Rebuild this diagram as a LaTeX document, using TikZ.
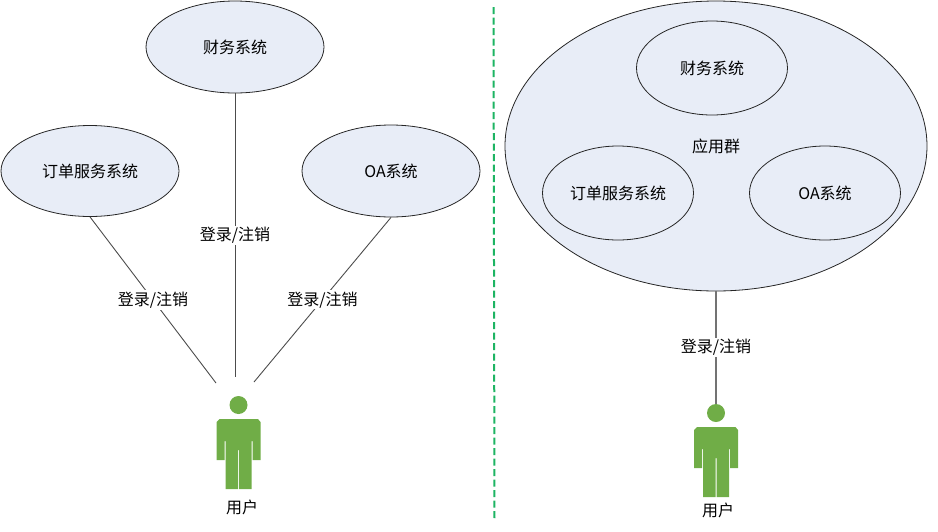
\documentclass[tikz,border=0pt]{standalone}
\usepackage{fontspec}
\setmainfont{Noto Sans CJK SC}
\usetikzlibrary{shapes.geometric}
\definecolor{sysfill}{HTML}{E8EDF7}
\definecolor{usergreen}{HTML}{70AD47}
\definecolor{divgreen}{HTML}{1DB463}
\tikzset{
  x=1pt,y=-1pt,
  sys/.style={ellipse,draw=black!85,line width=0.8pt,fill=sysfill,inner sep=0pt,font=\fontsize{16}{18}\selectfont},
  conn/.style={draw=black!70,line width=0.9pt},
  connb/.style={draw=black!55,line width=1.8pt},
  lbl/.style={fill=white,inner sep=1.5pt,font=\fontsize{16}{18}\selectfont},
  captext/.style={inner sep=0pt,font=\fontsize{16}{18}\selectfont},
  head/.style={circle,fill=usergreen,inner sep=0pt,minimum size=18pt},
  person/.pic={
    \fill[usergreen] (-22,14) -- (-19,11) -- (19.5,11) -- (22,14) -- (22,52)
      -- (14,52) -- (14,33) -- (13,33) -- (13,81) -- (0.5,81) -- (0.5,42) -- (-0.5,42) -- (-0.5,81)
      -- (-13,81) -- (-13,33) -- (-14,33) -- (-14,52) -- (-22,52) -- cycle;
  }
}
\begin{document}
\begin{tikzpicture}
\useasboundingbox (0,0) rectangle (938,531);
\node[sys,minimum width=178pt,minimum height=92pt] (fin) at (235,47) {财务系统};
\node[sys,minimum width=178pt,minimum height=91pt] (ord) at (90,171) {订单服务系统};
\node[sys,minimum width=178pt,minimum height=92pt] (oa) at (391,171) {OA系统};
\coordinate (uA) at (216,383);
\coordinate (uB) at (235,377);
\coordinate (uC) at (254,382);
\draw[conn] (ord.south) -- (uA) node[pos=0.5,lbl] (l1) {登录/注销};
\draw[conn] (fin.south) -- (uB) node[pos=0.5,lbl] (l2) {登录/注销};
\draw[conn] (oa.south) -- (uC) node[pos=0.5,lbl] (l3) {登录/注销};
\node[head] (h1) at (238.5,405) {};
\pic at (238.5,408) {person};
\node[captext] (c1) at (242,507) {用户};

\coordinate (d1) at (493.5,7);
\coordinate (d2) at (494.5,520);
\draw[divgreen,line width=2pt,dash pattern=on 7pt off 3.5pt] (d1) -- (d2);

\node[sys,minimum width=422pt,minimum height=290pt] (grp) at (716,146) {应用群};
\node[sys,minimum width=151pt,minimum height=94pt] (fin2) at (712,68) {财务系统};
\node[sys,minimum width=151pt,minimum height=94pt] (ord2) at (618,193) {订单服务系统};
\node[sys,minimum width=151pt,minimum height=94pt] (oa2) at (825,193) {OA系统};
\node[head] (h2) at (716,413) {};
\pic at (716,416) {person};
\draw[connb] (grp.south) -- (h2.north) node[pos=0.5,lbl] (l4) {登录/注销};
\node[captext] (c2) at (718,510) {用户};
\end{tikzpicture}
\end{document}
